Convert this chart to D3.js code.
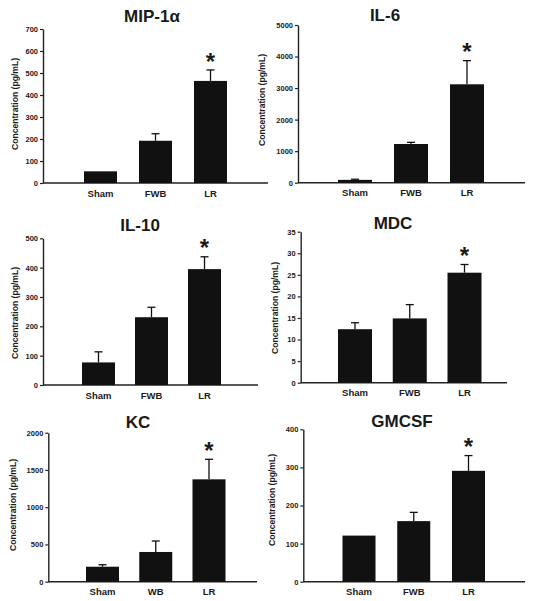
<!DOCTYPE html>
<html><head><meta charset="utf-8">
<script src="https://cdn.jsdelivr.net/npm/d3@7"></script>
<style>
html,body{margin:0;padding:0;background:#fff;}
svg{display:block;}
text{font-family:"Liberation Sans",Arial,sans-serif;font-weight:bold;fill:#1a1a1a;}
</style></head>
<body>
<script>
// ---- data ----
const titles = ["MIP-1α", "IL-6", "IL-10", "MDC", "KC", "GMCSF"];
const categories = ["Sham", "FWB", "LR"];
const categoriesKC = ["Sham", "WB", "LR"];
const means = [
  [53, 192, 464],
  [90, 1227, 3120],
  [77, 231, 395],
  [12.4, 14.9, 25.5],
  [201, 399, 1374],
  [121, 159, 291]
];
const errors = [
  [0, 32, 50],
  [20, 53, 750],
  [36, 34, 42],
  [1.5, 3.2, 1.9],
  [27, 147, 269],
  [0, 23, 40]
];
const yMax = [700, 5000, 500, 35, 2000, 400];
const tickStep = [100, 1000, 100, 5, 500, 100];
const significant = [false, false, true]; // asterisk on LR
const yLabel = "Concentration (pg/mL)";

// ---- layout (pixels) ----
const layout = [
  {ax: 43,    y0: 183,   yTop: 29,    right: 268, c0: 100.5, c2: 210.5, bw: 33, tx: 152, ty: 22,  lx: 15,  ly: 104},
  {ax: 298,   y0: 182.7, yTop: 25,    right: 525, c0: 355,   c2: 467,   bw: 34, tx: 385, ty: 21,  lx: 262, ly: 100},
  {ax: 43,    y0: 385,   yTop: 238.3, right: 258, c0: 98.5,  c2: 204.5, bw: 33, tx: 140, ty: 231, lx: 15,  ly: 313},
  {ax: 300.7, y0: 382.7, yTop: 231.7, right: 507, c0: 355,   c2: 464.5, bw: 34, tx: 393, ty: 229, lx: 275, ly: 308},
  {ax: 48.3,  y0: 581.7, yTop: 432.7, right: 257, c0: 102.5, c2: 209,   bw: 33, tx: 138, ty: 428, lx: 13,  ly: 505},
  {ax: 303.3, y0: 581.7, yTop: 429.3, right: 525, c0: 359,   c2: 468.5, bw: 33, tx: 402, ty: 427, lx: 272, ly: 500}
];

const svg = d3.select("body").append("svg").attr("width", 541).attr("height", 601);
svg.append("rect").attr("width", 541).attr("height", 601).attr("fill", "#fff");

titles.forEach((title, i) => {
  const L = layout[i];
  const cats = i === 4 ? categoriesKC : categories;
  const g = svg.append("g");
  const y = d3.scaleLinear().domain([0, yMax[i]]).range([L.y0, L.yTop]);
  const x = d3.scalePoint().domain(cats).range([L.c0, L.c2]);

  // y axis
  const ticks = d3.range(0, yMax[i] + tickStep[i] / 2, tickStep[i]);
  const yAxis = d3.axisLeft(y).tickValues(ticks).tickSize(3).tickSizeOuter(0).tickPadding(2).tickFormat(d3.format("d"));
  const ya = g.append("g").attr("transform", `translate(${L.ax},0)`).call(yAxis);
  ya.select(".domain").attr("stroke", "#222").attr("stroke-width", 1.4);
  ya.selectAll(".tick line").attr("stroke", "#222").attr("stroke-width", 1.2);
  ya.selectAll(".tick text").attr("font-size", 7.5).attr("font-family", "Liberation Sans, Arial, sans-serif").attr("font-weight", "bold").attr("fill", "#222");

  // x axis line
  g.append("line").attr("x1", L.ax).attr("x2", L.right).attr("y1", L.y0).attr("y2", L.y0)
    .attr("stroke", "#222").attr("stroke-width", 1.4);

  // bars
  const data = cats.map((c, k) => ({c, m: means[i][k], e: errors[i][k], sig: significant[k]}));
  g.selectAll("rect.bar").data(data).join("rect").attr("class", "bar")
    .attr("x", d => x(d.c) - L.bw / 2).attr("width", L.bw)
    .attr("y", d => y(d.m)).attr("height", d => L.y0 - y(d.m))
    .attr("fill", "#111");

  // error bars
  const eb = data.filter(d => d.e > 0);
  g.selectAll("line.err").data(eb).join("line").attr("class", "err")
    .attr("x1", d => x(d.c)).attr("x2", d => x(d.c))
    .attr("y1", d => y(d.m)).attr("y2", d => y(d.m + d.e))
    .attr("stroke", "#111").attr("stroke-width", 1.3);
  g.selectAll("line.cap").data(eb).join("line").attr("class", "cap")
    .attr("x1", d => x(d.c) - 4).attr("x2", d => x(d.c) + 4)
    .attr("y1", d => y(d.m + d.e)).attr("y2", d => y(d.m + d.e))
    .attr("stroke", "#111").attr("stroke-width", 1.3);

  // asterisks
  const fs = 24;
  g.selectAll("text.star").data(data.filter(d => d.sig)).join("text").attr("class", "star")
    .attr("x", d => x(d.c)).attr("y", d => y(d.m + d.e) - 14 + 0.57 * fs)
    .attr("text-anchor", "middle").attr("font-size", fs).text("*");

  // x labels
  g.selectAll("text.xl").data(cats).join("text").attr("class", "xl")
    .attr("x", d => x(d)).attr("y", L.y0 + 13.5)
    .attr("text-anchor", "middle").attr("font-size", 9.5).text(d => d);

  // title
  g.append("text").attr("x", L.tx).attr("y", L.ty).attr("text-anchor", "middle")
    .attr("font-size", 17).text(title);

  // y label
  g.append("text").attr("transform", `translate(${L.lx + 3},${L.ly}) rotate(-90)`)
    .attr("text-anchor", "middle").attr("font-size", 8.6).attr("fill", "#222").text(yLabel);
});
</script>
</body></html>
